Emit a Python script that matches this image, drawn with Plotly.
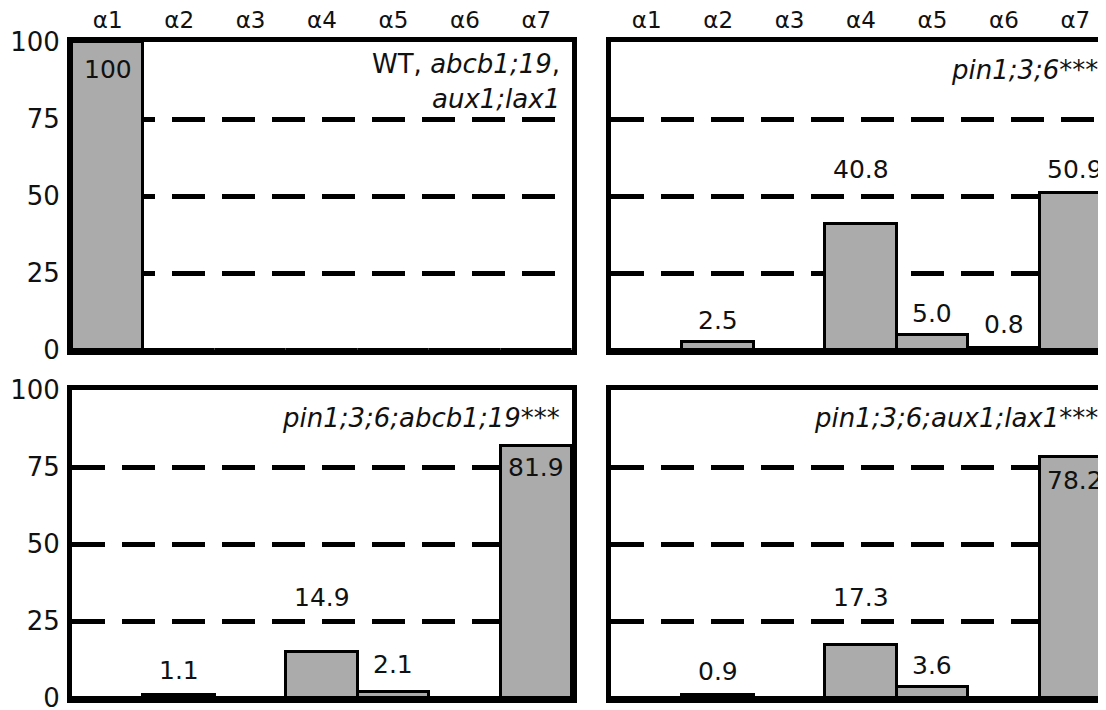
import plotly.graph_objects as go

# ---------------- data ----------------
categories = ["α1", "α2", "α3", "α4", "α5", "α6", "α7"]

wt_values = [100, 0, 0, 0, 0, 0, 0]
pin_values = [0, 2.5, 0, 40.8, 5.0, 0.8, 50.9]
pin_abcb_values = [0, 1.1, 0, 14.9, 2.1, 0, 81.9]
pin_aux_values = [0, 0.9, 0, 17.3, 3.6, 0, 78.2]

y_ticks = [0, 25, 50, 75, 100]

# label heights (data units) for the value annotations
wt_label_y = [91, None, None, None, None, None, None]
pin_label_y = [None, 9.7, None, 58.5, 12.0, 8.2, 58.5]
pin_abcb_label_y = [None, 9.0, None, 32.5, 11.0, None, 74.8]
pin_aux_label_y = [None, 8.5, None, 32.5, 10.5, None, 70.5]

W, H = 1106, 710
OFF = 8  # page body margin
FONT = "DejaVu Sans, Liberation Sans, sans-serif"
BAR_COLOR = "#ababab"
INK = "#111111"


def px(x):
    return (x - OFF) / W


def py(y):
    return 1 - (y - OFF) / H


fig = go.Figure()

panels = [
    (wt_values, wt_label_y, "x", "y"),
    (pin_values, pin_label_y, "x2", "y2"),
    (pin_abcb_values, pin_abcb_label_y, "x3", "y3"),
    (pin_aux_values, pin_aux_label_y, "x4", "y4"),
]

for vals, ly, xa, ya in panels:
    fig.add_trace(go.Bar(
        x=categories, y=vals, xaxis=xa, yaxis=ya,
        marker=dict(color=BAR_COLOR, line=dict(color="black", width=3)),
        width=1.0, showlegend=False, hoverinfo="skip",
    ))
    for c, v, yy in zip(categories, vals, ly):
        if yy is None:
            continue
        txt = f"{v:.0f}" if v >= 100 else f"{v:.1f}"
        fig.add_annotation(
            x=c, y=yy, xref=xa, yref=ya, text=txt, showarrow=False,
            font=dict(family=FONT, size=25, color=INK),
            xanchor="center", yanchor="middle",
        )

left_dom = [px(72), px(572)]
right_dom = [px(611), 1.0]
top_dom = [py(350), py(42)]
bot_dom = [py(698), py(390)]

cat_w = 500 / 7.0
right_range = [-0.5, -0.5 + (W + OFF - 611) / cat_w]

common_x = dict(
    type="category", categoryorder="array", categoryarray=categories,
    showgrid=False, zeroline=False, showline=True, linecolor="black",
    linewidth=5, ticks="", fixedrange=True, automargin=False,
    tickfont=dict(family=FONT, size=23, color=INK),
)
common_y = dict(
    range=[0, 100], tickvals=y_ticks, showgrid=True, gridcolor="black",
    gridwidth=5, griddash="33px,17px", zeroline=False, showline=True,
    linecolor="black", linewidth=5, ticks="", fixedrange=True, automargin=False,
    tickfont=dict(family=FONT, size=26, color=INK),
)

fig.update_layout(
    width=W, height=H,
    margin=dict(l=0, r=0, t=0, b=0, autoexpand=False),
    paper_bgcolor="white", plot_bgcolor="white",
    bargap=0,
    xaxis=dict(common_x, domain=left_dom, anchor="y", range=[-0.5, 6.5],
               side="top", mirror=True, showticklabels=True, ticklabelstandoff=0),
    yaxis=dict(common_y, domain=top_dom, anchor="x", mirror=True,
               showticklabels=True, ticklabelstandoff=2),
    xaxis2=dict(common_x, domain=right_dom, anchor="y2", range=right_range,
                side="top", mirror=True, showticklabels=True, ticklabelstandoff=0),
    yaxis2=dict(common_y, domain=top_dom, anchor="x2", mirror=False,
                showticklabels=False),
    xaxis3=dict(common_x, domain=left_dom, anchor="y3", range=[-0.5, 6.5],
                mirror=True, showticklabels=False),
    yaxis3=dict(common_y, domain=bot_dom, anchor="x3", mirror=True,
                showticklabels=True, ticklabelstandoff=2),
    xaxis4=dict(common_x, domain=right_dom, anchor="y4", range=right_range,
                mirror=True, showticklabels=False),
    yaxis4=dict(common_y, domain=bot_dom, anchor="x4", mirror=False,
                showticklabels=False),
)

title_font = dict(family=FONT, size=26, color=INK)
titles = [
    ("WT, <i>abcb1;19</i>,", 562, 64),
    ("<i>aux1;lax1</i>", 562, 99),
    ("<i>pin1;3;6</i>***", 1100, 70),
    ("<i>pin1;3;6;abcb1;19</i>***", 562, 418),
    ("<i>pin1;3;6;aux1;lax1</i>***", 1100, 418),
]
for t, xx, yy in titles:
    fig.add_annotation(
        x=px(xx), y=py(yy), xref="paper", yref="paper", text=t,
        showarrow=False, xanchor="right", yanchor="middle", font=title_font,
    )

fig.write_html("out.html")
